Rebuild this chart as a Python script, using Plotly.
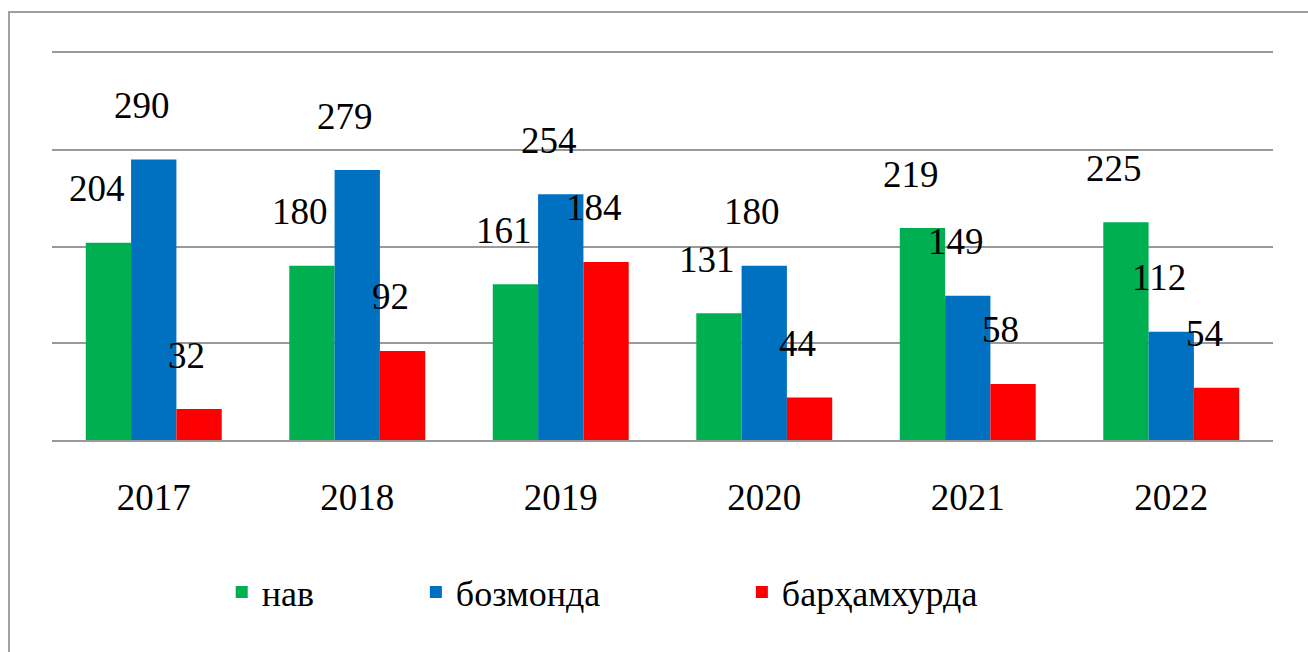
import plotly.graph_objects as go

years = ["2017", "2018", "2019", "2020", "2021", "2022"]
nav = [204, 180, 161, 131, 219, 225]
bozmonda = [290, 279, 254, 180, 149, 112]
barhamkhurda = [32, 92, 184, 44, 58, 54]

series_names = ["нав", "бозмонда", "барҳамхурда"]
series_values = [nav, bozmonda, barhamkhurda]
colors = ["#00B050", "#0070C0", "#FF0000"]
legend_ids = ["legend", "legend2", "legend3"]

FONT = "'Liberation Serif', 'Times New Roman', 'DejaVu Serif', serif"

fig = go.Figure()
for name, vals, col, lg in zip(series_names, series_values, colors, legend_ids):
    fig.add_trace(go.Bar(x=years, y=vals, name=name, marker_color=col,
                         marker_line_width=0, legend=lg, showlegend=True))

# value labels (placed above bars with a small offset, as in the original)
bar_px = 45
for si, vals in enumerate(series_values):
    for ci, v in enumerate(vals):
        fig.add_annotation(x=ci, y=v, text=str(v), showarrow=False,
                           xshift=(si - 1) * bar_px - 12, yshift=54,
                           yanchor="middle",
                           font=dict(family=FONT, size=37, color="black"))

leg_common = dict(orientation="h", yanchor="middle", xanchor="left",
                  font=dict(family=FONT, size=36, color="black"),
                  bgcolor="rgba(0,0,0,0)")
fig.update_layout(
    width=1308, height=652,
    margin=dict(l=52, r=35, t=53, b=212),
    paper_bgcolor="white", plot_bgcolor="white",
    barmode="group", bargap=0.332, bargroupgap=0,
    font=dict(family=FONT, size=36, color="black"),
    showlegend=True,
    legend=dict(x=0.139, y=-0.393, **leg_common),
    legend2=dict(x=0.298, y=-0.393, **leg_common),
    legend3=dict(x=0.565, y=-0.393, **leg_common),
    xaxis=dict(type="category", range=[-0.5, len(years) - 0.5],
               showgrid=False, zeroline=False,
               showline=True, mirror=True, linecolor="#999999", linewidth=2,
               ticks="outside", ticklen=24, tickcolor="rgba(0,0,0,0)",
               tickfont=dict(family=FONT, size=37, color="black")),
    yaxis=dict(range=[0, 400], tickvals=[0, 100, 200, 300, 400],
               showticklabels=False, showgrid=True, gridcolor="#999999",
               gridwidth=2, zeroline=False, showline=False),
)

fig.add_shape(type="rect", xref="paper", yref="paper",
              x0=-0.0352, y0=-0.6, x1=1.1, y1=1.106,
              line=dict(color="#A0A0A0", width=2), layer="below")

fig.write_html("out.html", config={"displayModeBar": False},
               post_script="document.body.style.margin='0';document.body.style.overflow='hidden';")
